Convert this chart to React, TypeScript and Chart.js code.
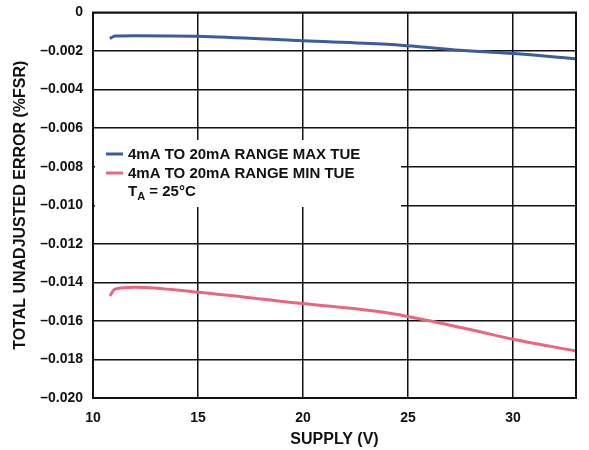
import React, { useEffect, useRef } from "react";
import { Chart, registerables } from "chart.js";

Chart.register(...registerables);

const supplyV = [10.8, 11.05, 12, 15, 20, 24, 28, 30, 33];
const maxTue = [-0.00135, -0.00122, -0.0012, -0.00123, -0.00147, -0.00165, -0.002, -0.00213, -0.0024];
const minTue = [-0.0147, -0.01435, -0.01425, -0.01451, -0.0151, -0.01558, -0.01646, -0.01695, -0.01756];
const seriesLabels = ["4mA TO 20mA RANGE MAX TUE", "4mA TO 20mA RANGE MIN TUE"];
const noteParts = ["T", "A", " = 25°C"];
const xTicks = [10, 15, 20, 25, 30];
const yTicks = [0, -0.002, -0.004, -0.006, -0.008, -0.01, -0.012, -0.014, -0.016, -0.018, -0.02];
const yTickLabels = ["0", "–0.002", "–0.004", "–0.006", "–0.008", "–0.010", "–0.012", "–0.014", "–0.016", "–0.018", "–0.020"];
const xTitle = "SUPPLY (V)";
const yTitle = "TOTAL UNADJUSTED ERROR (%FSR)";

const BLUE = "#3d5c9c";
const PINK = "#e9667f";
const FONT = "'Liberation Sans', Arial, Helvetica, sans-serif";

const legendPlugin = {
  id: "tueLegend",
  beforeDatasetsDraw(chart: any) {
    const { ctx, chartArea } = chart;
    const L = chartArea.left;
    const T = chartArea.top;
    ctx.save();
    ctx.fillStyle = "#ffffff";
    ctx.fillRect(L + 2, T + 127.5, 306, 67);
    const colors = [BLUE, PINK];
    ctx.font = `bold 15px ${FONT}`;
    ctx.textBaseline = "middle";
    ctx.textAlign = "left";
    seriesLabels.forEach((lab, i) => {
      const y = T + 141.5 + i * 19;
      ctx.strokeStyle = colors[i];
      ctx.lineWidth = 3;
      ctx.beginPath();
      ctx.moveTo(L + 13, y);
      ctx.lineTo(L + 30, y);
      ctx.stroke();
      ctx.fillStyle = "#111";
      ctx.fillText(lab, L + 35, y + 0.5);
    });
    const y3 = T + 179.5;
    let x = L + 35;
    ctx.fillStyle = "#111";
    ctx.fillText(noteParts[0], x, y3);
    x += ctx.measureText(noteParts[0]).width;
    ctx.font = `bold 11px ${FONT}`;
    ctx.fillText(noteParts[1], x, y3 + 5);
    x += ctx.measureText(noteParts[1]).width;
    ctx.font = `bold 15px ${FONT}`;
    ctx.fillText(noteParts[2], x, y3);
    ctx.restore();
  },
  afterDatasetsDraw(chart: any) {
    const { ctx, chartArea } = chart;
    ctx.save();
    ctx.strokeStyle = "#111";
    ctx.lineWidth = 2;
    ctx.strokeRect(chartArea.left, chartArea.top, chartArea.right - chartArea.left, chartArea.bottom - chartArea.top);
    ctx.restore();
  },
};

export default function App() {
  const ref = useRef<HTMLCanvasElement | null>(null);

  useEffect(() => {
    if (!ref.current) return;
    const chart = new Chart(ref.current, {
      type: "line",
      data: {
        datasets: [
          {
            label: seriesLabels[0],
            data: supplyV.map((v, i) => ({ x: v, y: maxTue[i] })),
            borderColor: BLUE,
            borderWidth: 3,
            pointRadius: 0,
            cubicInterpolationMode: "monotone",
            fill: false,
          },
          {
            label: seriesLabels[1],
            data: supplyV.map((v, i) => ({ x: v, y: minTue[i] })),
            borderColor: PINK,
            borderWidth: 3,
            pointRadius: 0,
            cubicInterpolationMode: "monotone",
            fill: false,
          },
        ],
      },
      options: {
        responsive: false,
        animation: false,
        layout: { padding: { top: 12.5, right: 13, left: 0, bottom: 0 } },
        plugins: { legend: { display: false }, tooltip: { enabled: false } },
        scales: {
          x: {
            type: "linear",
            min: 10,
            max: 33,
            afterBuildTicks: (s: any) => {
              s.ticks = xTicks.map((v) => ({ value: v }));
            },
            afterFit: (s: any) => {
              s.height = 52;
              s.paddingLeft = 0;
              s.paddingRight = 0;
            },
            grid: { color: "#111", lineWidth: 1.5, drawTicks: false },
            border: { display: false },
            ticks: {
              padding: 11.5,
              color: "#111",
              font: { family: FONT, size: 14, weight: "bold" },
              maxRotation: 0,
              callback: (v: any) => String(v),
            },
            title: {
              display: true,
              text: xTitle,
              color: "#111",
              font: { family: FONT, size: 16, weight: "bold" },
              padding: { top: 0, bottom: 1 },
            },
          },
          y: {
            type: "linear",
            min: -0.02,
            max: 0,
            afterBuildTicks: (s: any) => {
              s.ticks = [...yTicks].reverse().map((v) => ({ value: v }));
            },
            afterFit: (s: any) => {
              s.width = 93;
              s.paddingTop = 0;
              s.paddingBottom = 0;
            },
            grid: { color: "#111", lineWidth: 1.5, drawTicks: false },
            border: { display: false },
            ticks: {
              padding: 10,
              color: "#111",
              font: { family: FONT, size: 14, weight: "bold" },
              callback: (v: any) => {
                let best = 0;
                yTicks.forEach((t, i) => {
                  if (Math.abs(t - v) < Math.abs(yTicks[best] - v)) best = i;
                });
                return yTickLabels[best];
              },
            },
            title: {
              display: true,
              text: yTitle,
              color: "#111",
              font: { family: FONT, size: 16, weight: "bold" },
              padding: { top: 11.4, bottom: 0 },
            },
          },
        },
      },
      plugins: [legendPlugin],
    });
    return () => chart.destroy();
  }, []);

  return (
    <div style={{ position: "fixed", left: 0, top: 0, width: 589, height: 450, background: "#fff" }}>
      <canvas ref={ref} width={589} height={450} style={{ display: "block" }} />
    </div>
  );
}
